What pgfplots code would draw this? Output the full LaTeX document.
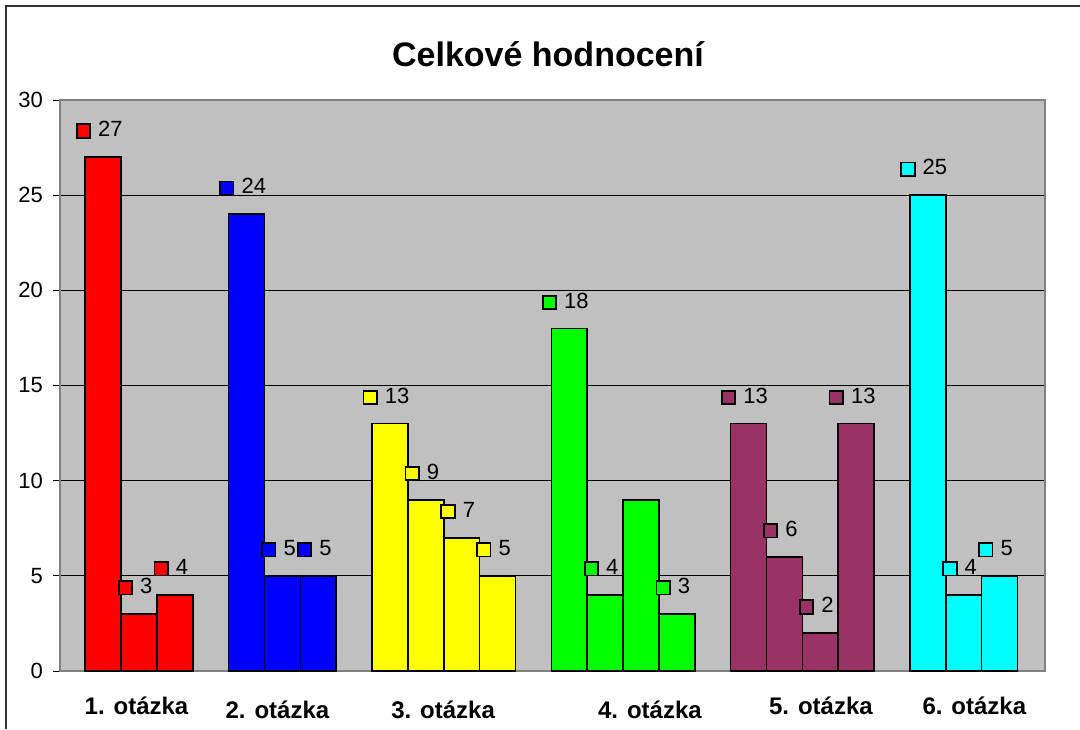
\documentclass[border=0pt]{standalone}
\usepackage{pgfplots}
\pgfplotsset{compat=1.18}
\usepackage{fontspec}
\setmainfont{Liberation Sans}
\definecolor{plum}{HTML}{993366}
\definecolor{xred}{HTML}{FF0000}
\definecolor{xblue}{HTML}{0000FF}
\definecolor{xyellow}{HTML}{FFFF00}
\definecolor{xgreen}{HTML}{00FF00}
\definecolor{xcyan}{HTML}{00FFFF}
\definecolor{plotgrey}{HTML}{C0C0C0}
\definecolor{bordergrey}{HTML}{808080}
\newcommand\lbl[2]{{\setlength\fboxsep{0pt}\setlength\fboxrule{0.9pt}\fcolorbox{black}{#1}{\rule{0pt}{5.8pt}\hspace{5.8pt}}}\hspace{3.6pt}#2}
\pgfplotsset{
  mybar/.style={ybar, bar width=1, bar shift=0pt, draw=black, line width=0.8pt, fill=#1},
  mylbl/.style={nodes near coords={\lbl{#1}{\pgfmathprintnumber{\pgfplotspointmeta}}},
    every node near coord/.append style={anchor=center, yshift=13.5pt, xshift=-2pt, font=\fontsize{11}{13}\selectfont, text=black, /pgf/number format/assume math mode=true}}
}
\begin{document}
\begin{tikzpicture}
\useasboundingbox (-30pt,-29pt) rectangle (510pt,335.5pt);
\draw[line width=1pt, black!80] (-27pt,-29pt) -- (-27pt,332.5pt) -- (510pt,332.5pt);
\begin{axis}[
  at={(0,0)}, anchor=south west,
  scale only axis, width=492.5pt, height=285.5pt,
  xmin=-1.205, xmax=26.27, ymin=0, ymax=30,
  ytick={0,5,...,30}, ytick pos=left,
  ymajorgrids, grid style={black, line width=0.5pt},
  axis background/.style={fill=plotgrey},
  axis line style={draw=bordergrey, line width=1pt},
  xtick={0.93,4.86,9.48,15.25,20.02,24.3},
  xticklabels={1. otázka,\raisebox{-2pt}{2. otázka},\raisebox{-2pt}{3. otázka},\raisebox{-2pt}{4. otázka},5. otázka,6. otázka},
  xticklabel style={anchor=base, yshift=-18pt, font=\bfseries\fontsize{12}{14}\selectfont},
  major x tick style={draw=none},
  tick align=outside, major tick length=3.5pt,
  y tick style={black, line width=0.5pt},
  yticklabel style={font=\fontsize{11}{13}\selectfont, xshift=-1.5pt, /pgf/number format/assume math mode=true},
  clip=false,
]
\addplot[mybar=xred, mylbl=xred] coordinates {(0,27) (1,3) (2,4)};
\addplot[mybar=xblue, mylbl=xblue] coordinates {(4,24) (5,5) (6,5)};
\addplot[mybar=xyellow, mylbl=xyellow] coordinates {(8,13) (9,9) (10,7) (11,5)};
\addplot[mybar=xgreen, mylbl=xgreen] coordinates {(13,18) (14,4) (16,3)};
\addplot[mybar=xgreen] coordinates {(15,9)};
\addplot[mybar=plum, mylbl=plum] coordinates {(18,13) (19,6) (20,2) (21,13)};
\addplot[mybar=xcyan, mylbl=xcyan] coordinates {(23,25) (24,4) (25,5)};
\end{axis}
\node[anchor=base, font=\bfseries\fontsize{17}{20}\selectfont] at (244pt,302pt) {Celkové hodnocení};
\end{tikzpicture}
\end{document}
